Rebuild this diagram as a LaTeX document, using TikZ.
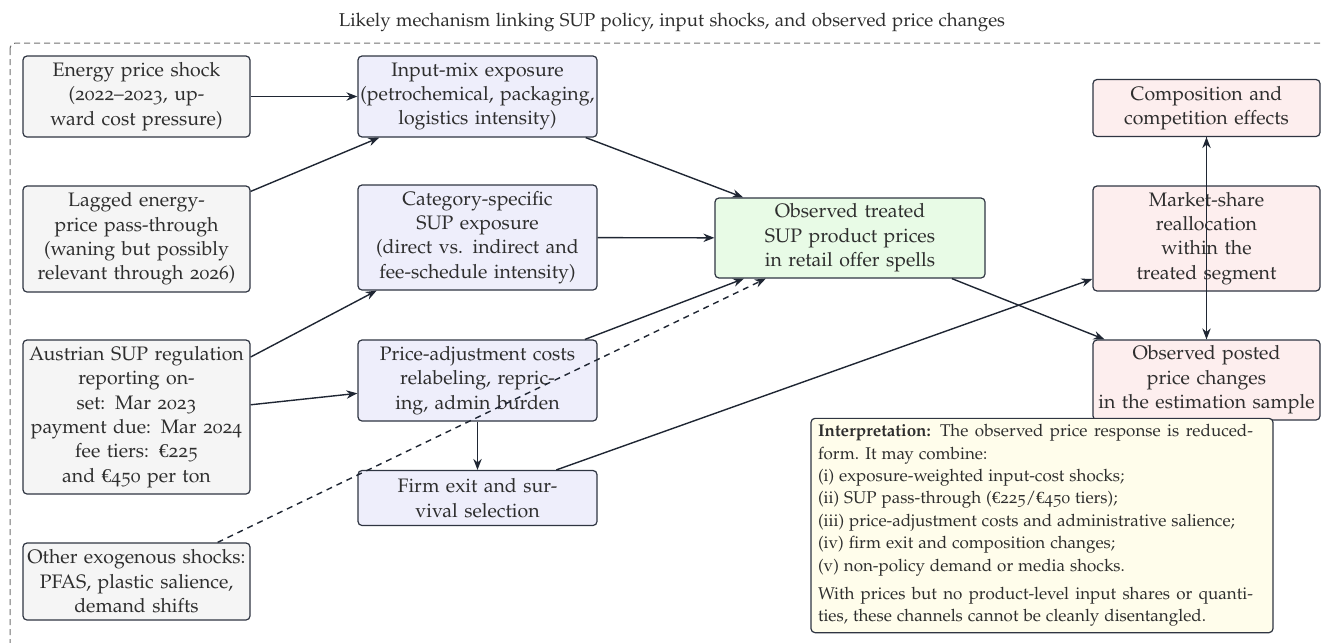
\documentclass[tikz,border=0pt]{standalone}
\usepackage{fontspec}
\newfontfamily\eurofont{Liberation Serif}
\usepackage[T1]{fontenc}
\usepackage[osf]{mathpazo}
\usetikzlibrary{arrows.meta}
\definecolor{txt}{HTML}{2E2E2E}
\definecolor{bordc}{HTML}{2F3542}
\definecolor{arrc}{HTML}{1F2633}
\definecolor{grayf}{HTML}{F5F5F5}
\definecolor{bluef}{HTML}{EEEEFB}
\definecolor{greenf}{HTML}{E8FBE6}
\definecolor{pinkf}{HTML}{FDEEEE}
\definecolor{notef}{HTML}{FFFDEB}
\definecolor{framec}{HTML}{707070}
\newcommand{\myeur}{{\eurofont €}}
\tikzset{
  box/.style={draw=bordc, line width=0.6pt, rounded corners=2pt, align=center, text=txt,
    inner xsep=0.75pt, inner ysep=2pt, font=\fontsize{9.75pt}{12.2pt}\selectfont},
  gbox/.style={box, fill=grayf, text width=112pt},
  bbox/.style={box, fill=bluef, text width=118pt},
  grbox/.style={box, fill=greenf, text width=133.5pt},
  pbox/.style={box, fill=pinkf, text width=112pt},
  notebox/.style={draw=bordc, line width=0.6pt, rounded corners=2pt, fill=notef, text=txt,
    inner xsep=3.5pt, inner ysep=3pt, font=\fontsize{8.5pt}{11.2pt}\selectfont},
  arr/.style={->, draw=arrc, line width=0.7pt},
  darr/.style={arr, dash pattern=on 3pt off 2.5pt},
  frame/.style={draw=framec, line width=0.5pt, dash pattern=on 3pt off 2pt, rounded corners=3pt},
  >={Stealth[length=5.5pt,width=4.2pt]}
}
\begin{document}
\begin{tikzpicture}[x=0.5pt,y=-0.5pt]
\useasboundingbox (0,0) rectangle (1324,643);
\clip (0,0) rectangle (1324,643);
\node[text=txt, font=\fontsize{9.3pt}{11.5pt}\selectfont] (title) at (672,22) {Likely mechanism linking SUP policy, input shocks, and observed price changes};
\draw[frame] (10,43) rectangle (1360,680);
% left column
\node[gbox, minimum height=40.5pt] (en) at (136.5,96.5) {Energy price shock\\(2022--2023, up-\\ward cost pressure)};
\node[gbox, minimum height=53pt] (lag) at (136.5,239) {Lagged energy-\\price pass-through\\(waning but possibly\\relevant through 2026)};
\node[gbox, minimum height=77pt] (aus) at (136.5,417) {Austrian SUP regulation\\reporting on-\\set: Mar 2023\\payment due: Mar 2024\\fee tiers: \myeur225\\and \myeur450 per ton};
\node[gbox, minimum height=38.5pt] (oth) at (136.5,581.5) {Other exogenous shocks:\\PFAS, plastic salience,\\demand shifts};
% middle column
\node[bbox, minimum height=40.5pt] (inp) at (477.5,96.5) {Input-mix exposure\\(petrochemical, packaging,\\logistics intensity)};
\node[bbox, minimum height=52.5pt] (cat) at (477.5,237.5) {Category-specific\\SUP exposure\\(direct vs. indirect and\\fee-schedule intensity)};
\node[bbox, minimum height=40.5pt] (pad) at (477.5,380.5) {Price-adjustment costs\\relabeling, repric-\\ing, admin burden};
\node[bbox, minimum height=27.5pt] (fex) at (477.5,498) {Firm exit and sur-\\vival selection};
% centre
\node[grbox, minimum height=40pt] (grn) at (850,238) {Observed treated\\SUP product prices\\in retail offer spells};
% right column
\node[pbox, minimum height=28.5pt] (comp) at (1206.5,108) {Composition and\\competition effects};
\node[pbox, minimum height=52.5pt] (mkt) at (1206.5,238.5) {Market-share\\reallocation\\within the\\treated segment};
\node[pbox, minimum height=40pt] (post) at (1206.5,380) {Observed posted\\price changes\\in the estimation sample};
% connectors
\draw[arr] (en) -- (inp);
\draw[arr] (lag) -- (inp);
\draw[arr] (inp) -- (grn);
\draw[arr] (cat) -- (grn);
\draw[arr] (aus) -- (cat);
\draw[arr] (aus) -- (pad);
\draw[arr] (pad) -- (grn);
\draw[darr] (oth) -- (grn);
\draw[arr] (pad) -- (fex);
\draw[arr] (fex) -- (mkt);
\draw[arr] (grn) -- (post);
\draw[arr] (post) -- (comp);
\draw[arr] (comp) -- (post);
% note
\node[notebox, minimum height=106.5pt] (note) at (1042,525.5) {\parbox{224pt}{\noindent\parbox{217.5pt}{%
\textbf{Interpretation:} The observed price response is reduced-\linebreak
form. It may combine:\\
(i) exposure-weighted input-cost shocks;\\
(ii) SUP pass-through (\myeur225/\myeur450 tiers);\\
(iii) price-adjustment costs and administrative salience;\\
(iv) firm exit and composition changes;\\
(v) non-policy demand or media shocks.\\[3pt]
With prices but no product-level input shares or quanti-\linebreak
ties, these channels cannot be cleanly disentangled.}}};
\end{tikzpicture}
\end{document}
